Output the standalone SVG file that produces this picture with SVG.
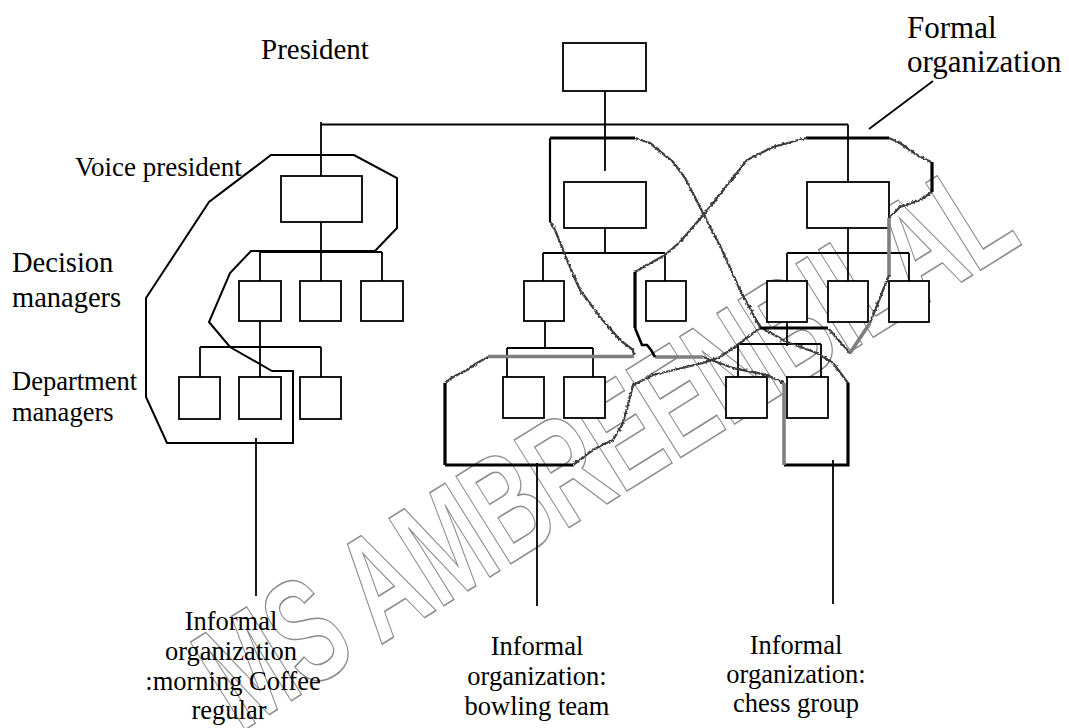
<svg xmlns="http://www.w3.org/2000/svg" width="1069" height="728" viewBox="0 0 1069 728">
  <defs>
    <filter id="rough" filterUnits="userSpaceOnUse" x="0" y="0" width="1069" height="728">
      <feTurbulence type="fractalNoise" baseFrequency="0.4" numOctaves="1" seed="4" result="noise"/>
      <feDisplacementMap in="SourceGraphic" in2="noise" scale="3.5" xChannelSelector="R" yChannelSelector="G"/>
    </filter>
  </defs>
  <style>
    .box { fill: #fff; stroke: #000; stroke-width: 1.8; }
    .ln { fill: none; stroke: #000; stroke-width: 1.8; }
    .loop { fill: none; stroke: #000; stroke-width: 2; stroke-linejoin: miter; }
    .jag { fill: none; stroke: #3c3c3c; stroke-width: 2.3; stroke-linejoin: round; }
    .thk { fill: none; stroke: #000; stroke-width: 3.2; }
    .gthk { fill: none; stroke: #7f7f7f; stroke-width: 3.6; }
    .lbl { font-family: "Liberation Serif", "Times New Roman", serif; fill: #000; }
    .mid { text-anchor: middle; font-size: 26.5px; }
    .mark { font-family: "Liberation Sans Narrow", "Liberation Sans", sans-serif; font-weight: bold; fill: none; stroke: #8c8c8c; stroke-width: 1.6; }
  </style>

  <rect width="1069" height="728" fill="#fff"/>

  <!-- watermark -->
  <text class="mark" transform="translate(632,488) rotate(-32)" text-anchor="middle" font-size="150" textLength="925" lengthAdjust="spacingAndGlyphs">MS AMBREENBILAL</text>

  <!-- formal chart connectors -->
  <g id="connectors">
    <path class="ln" d="M605,91 V171 M321,124.5 H848 M321,122 V176 M848,124.5 V182"/>
    <path class="ln" d="M321,222 V252 M260,252 H382 M260,252 V281 M321,252 V281 M382,252 V281"/>
    <path class="ln" d="M260,321 V377 M200,347 H321 M200,347 V377 M321,347 V377"/>
    <path class="ln" d="M605,228 V253 M543,253 H665 M543,253 V281 M665,253 V281"/>
    <path class="ln" d="M545,321 V348 M507,348 H593 M507,348 V377 M593,348 V377"/>
    <path class="ln" d="M848,228 V253 M787,253 H909 M787,253 V281 M848,253 V281 M909,253 V281"/>
    <path class="ln" d="M787,322 V346 M738,344 H821 M738,344 V377 M821,344 V377"/>
    <!-- pointer to formal organization -->
    <path class="ln" d="M933,81 L869,129"/>
    <!-- pointers to the informal groups -->
    <path class="ln" d="M256,438 V596"/>
    <path class="ln" d="M537,463 V606"/>
    <path class="ln" d="M833,460 V604"/>
  </g>

  <!-- formal chart nodes -->
  <g id="president"><rect class="box" x="563" y="43" width="83" height="48"/></g>
  <g id="vp-left"><rect class="box" x="281" y="176" width="81" height="46"/></g>
  <g id="vp-mid"><rect class="box" x="564" y="182" width="82" height="46"/></g>
  <g id="vp-right"><rect class="box" x="807" y="182" width="82" height="46"/></g>

  <g id="dm-left">
    <rect class="box" x="239" y="281" width="42" height="40"/>
    <rect class="box" x="300" y="281" width="41" height="40"/>
    <rect class="box" x="361" y="281" width="42" height="40"/>
  </g>
  <g id="dept-left">
    <rect class="box" x="179" y="377" width="41" height="42"/>
    <rect class="box" x="239" y="377" width="42" height="42"/>
    <rect class="box" x="300" y="377" width="41" height="42"/>
  </g>
  <g id="dm-mid">
    <rect class="box" x="524" y="281" width="40" height="40"/>
    <rect class="box" x="646" y="281" width="40" height="40"/>
  </g>
  <g id="dept-mid">
    <rect class="box" x="503" y="377" width="41" height="41"/>
    <rect class="box" x="564" y="377" width="41" height="41"/>
  </g>
  <g id="dm-right">
    <rect class="box" x="767" y="281" width="40" height="41"/>
    <rect class="box" x="828" y="281" width="40" height="41"/>
    <rect class="box" x="889" y="281" width="40" height="41"/>
  </g>
  <g id="dept-right">
    <rect class="box" x="726" y="377" width="41" height="41"/>
    <rect class="box" x="787" y="377" width="41" height="41"/>
  </g>

  <!-- informal group: morning coffee regulars -->
  <g id="informal-coffee">
    <path class="loop" d="M271,155 L354,155 L397,178 L397,228 L375,251 L251,251 L230,273 L209,322 L230,347 L272,371 L293,371 L293,443 L167,443 L146,397 L146,298 L209,202 Z"/>
  </g>

  <!-- informal groups: bowling team and chess group (one freehand loop) -->
  <g id="informal-bowling-chess">
    <g filter="url(#rough)">
      <polyline class="jag" points="445,383 453,377 467,370 477,363 488,357"/>
      <polyline class="jag" points="634,356 633,350 620,340 600,317 580,290 572,272 567,260 562,247 555,230 550,222"/>
      <polyline class="jag" points="635,138 650,143 673,162 685,178 703,213 723,252 740,290 760,327 787,342 817,353 833,363 848,383"/>
      <polyline class="jag" points="784,383 767,375 733,368 703,357"/>
      <polyline class="jag" points="635,272 665,255 680,242 705,213 737,173 747,160 773,147 806,138"/>
      <polyline class="jag" points="889,138 900,143 917,155 931,162"/>
      <polyline class="jag" points="932,192 920,200 900,207 889,218"/>
      <polyline class="jag" points="889,275 870,323"/>
      <polyline class="jag" points="850,353 828,328"/>
      <polyline class="jag" points="760,328 740,343 720,357 703,363 653,375 633,385 628,405 622,425 613,440 600,446 590,452 573,465"/>
    </g>
    <path class="thk" d="M445,465 H573 M445,465 V383"/>
    <path class="gthk" d="M488,356.5 H634"/>
    <path class="ln" style="stroke-width:2.2" d="M550,222 V138"/>
    <path class="thk" d="M550,138 H635"/>
    <path class="thk" d="M848,383 V465 H784"/>
    <path class="gthk" d="M784,465 V383"/>
    <path class="gthk" d="M703,357 H655"/>
    <polyline class="ln" style="stroke-width:2.6" points="655,357 651,350 647,345 642,345 635,328"/>
    <path class="thk" d="M635,328 V272"/>
    <path class="thk" d="M806,138 H889"/>
    <path class="thk" d="M932,162 V192"/>
    <path class="gthk" d="M889,218 V275"/>
    <path class="gthk" d="M870,323 L850,353"/>
    <path class="thk" d="M828,328 H760"/>
  </g>

  <!-- labels -->
  <g id="labels">
    <text class="lbl" x="261" y="59" font-size="29">President</text>
    <text class="lbl" x="907" y="38" font-size="31">Formal</text>
    <text class="lbl" x="907" y="72" font-size="31">organization</text>
    <text class="lbl" x="75" y="176" font-size="27">Voice president</text>
    <text class="lbl" x="12" y="272" font-size="28.5">Decision</text>
    <text class="lbl" x="12" y="307" font-size="28.5">managers</text>
    <text class="lbl" x="12" y="390" font-size="26.5">Department</text>
    <text class="lbl" x="12" y="421" font-size="26.5">managers</text>
    <text class="lbl mid" x="231" y="630">Informal</text>
    <text class="lbl mid" x="231" y="660">organization</text>
    <text class="lbl mid" x="233" y="690">:morning Coffee</text>
    <text class="lbl mid" x="229" y="719">regular</text>
    <text class="lbl mid" x="537" y="655">Informal</text>
    <text class="lbl mid" x="537" y="685">organization:</text>
    <text class="lbl mid" x="537" y="715">bowling team</text>
    <text class="lbl mid" x="796" y="654">Informal</text>
    <text class="lbl mid" x="796" y="683">organization:</text>
    <text class="lbl mid" x="796" y="712">chess group</text>
  </g>
</svg>
